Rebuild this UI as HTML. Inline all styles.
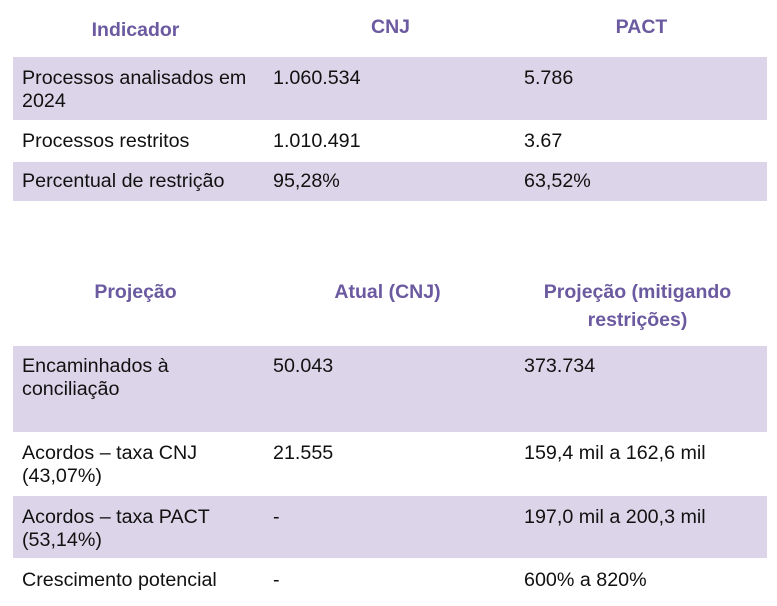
<!DOCTYPE html>
<html><head><meta charset="utf-8"><style>
body{margin:0;width:777px;height:606px;background:#fff;font-family:"Liberation Sans",Arial,sans-serif;position:relative;overflow:hidden}
.b{position:absolute;left:13px;width:754px;background:#dcd4e8}
.t{position:absolute;font-size:19.7px;line-height:23px;color:#111;white-space:nowrap}
.h{position:absolute;font-size:19.5px;line-height:28px;font-weight:bold;color:#6b5aa0;text-align:center;width:251px}
</style></head><body>
<div class="b" style="top:57px;height:63px"></div>
<div class="b" style="top:162px;height:39px"></div>
<div class="b" style="top:346px;height:86px"></div>
<div class="b" style="top:496px;height:62px"></div>

<div class="h" style="left:10px;top:16px">Indicador</div>
<div class="h" style="left:265px;top:13px">CNJ</div>
<div class="h" style="left:516px;top:13px">PACT</div>

<div class="t" style="left:22px;top:67px">Processos analisados em<br>2024</div>
<div class="t" style="left:273px;top:67px">1.060.534</div>
<div class="t" style="left:524px;top:67px">5.786</div>
<div class="t" style="left:22px;top:130px">Processos restritos</div>
<div class="t" style="left:273px;top:130px">1.010.491</div>
<div class="t" style="left:524px;top:130px">3.67</div>
<div class="t" style="left:22px;top:170px">Percentual de restrição</div>
<div class="t" style="left:273px;top:170px">95,28%</div>
<div class="t" style="left:524px;top:170px">63,52%</div>

<div class="h" style="left:10px;top:278px">Projeção</div>
<div class="h" style="left:262px;top:278px">Atual (CNJ)</div>
<div class="h" style="left:512px;top:278px">Projeção (mitigando<br>restrições)</div>

<div class="t" style="left:22px;top:355px">Encaminhados à<br>conciliação</div>
<div class="t" style="left:273px;top:355px">50.043</div>
<div class="t" style="left:524px;top:355px">373.734</div>
<div class="t" style="left:22px;top:442px">Acordos – taxa CNJ<br>(43,07%)</div>
<div class="t" style="left:273px;top:442px">21.555</div>
<div class="t" style="left:524px;top:442px">159,4 mil a 162,6 mil</div>
<div class="t" style="left:22px;top:506px">Acordos – taxa PACT<br>(53,14%)</div>
<div class="t" style="left:273px;top:506px">-</div>
<div class="t" style="left:524px;top:506px">197,0 mil a 200,3 mil</div>
<div class="t" style="left:22px;top:569px">Crescimento potencial</div>
<div class="t" style="left:273px;top:569px">-</div>
<div class="t" style="left:524px;top:569px">600% a 820%</div>
</body></html>
